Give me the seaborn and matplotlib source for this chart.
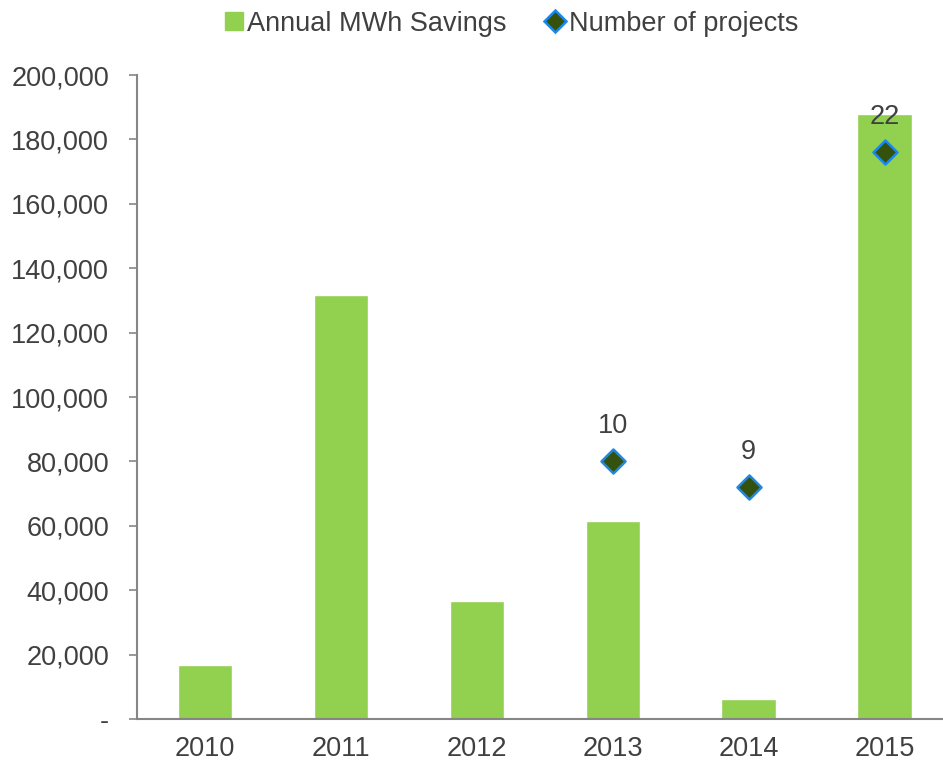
import matplotlib
matplotlib.use("Agg")
import matplotlib.pyplot as plt
from matplotlib.lines import Line2D
from matplotlib.ticker import FuncFormatter
import seaborn as sns
import pandas as pd

years = ["2010", "2011", "2012", "2013", "2014", "2015"]
mwh_savings = [16800, 131600, 36700, 61500, 6100, 187800]
project_years = ["2013", "2014", "2015"]
project_counts = [10, 9, 22]

sns.set_style("white")
plt.rcParams["font.family"] = ["Liberation Sans", "DejaVu Sans"]
text_col = "#404040"
bar_col = "#92D050"
dia_col = "#34520E"
dia_edge = "#1E88E5"

fig = plt.figure(figsize=(9.43, 7.64), dpi=100)
ax = fig.add_axes([0.1453, 0.0589, 0.8547, 0.8429])

df = pd.DataFrame({"year": years, "mwh": mwh_savings})
sns.barplot(data=df, x="year", y="mwh", color=bar_col, saturation=1, width=0.4, ax=ax)
ax.set_ylim(0, 200000)
ax.set_xlim(-0.5, 5.43)
ax.set_yticks(range(0, 200001, 20000))
ax.yaxis.set_major_formatter(FuncFormatter(lambda v, p: "-" if v == 0 else f"{int(v):,}"))
ax.set_xlabel("")
ax.set_ylabel("")
for s in ["top", "right"]:
    ax.spines[s].set_visible(False)
for s in ["left", "bottom"]:
    ax.spines[s].set_color("#868686")
    ax.spines[s].set_linewidth(1.5)
ax.tick_params(axis="y", left=True, length=6, width=1.2, color="#868686",
               labelsize=19.5, labelcolor=text_col, pad=14)
ax.tick_params(axis="x", bottom=False, labelsize=19.5, labelcolor=text_col, pad=9)

# secondary (hidden) axis for the project counts
ax2 = ax.twinx()
pos = [years.index(y) for y in project_years]
pdf = pd.DataFrame({"x": pos, "n": project_counts})
sns.scatterplot(data=pdf, x="x", y="n", marker="D", s=150, color=dia_col,
                edgecolor=dia_edge, linewidth=1.8, ax=ax2, zorder=5)
ax2.set_ylim(0, 25)
ax2.set_xlim(-0.5, 5.43)
ax2.axis("off")
for x, n in zip(pos, project_counts):
    ax2.annotate(str(n), (x, n), xytext=(0, 16), textcoords="offset points",
                 ha="center", va="bottom", fontsize=19.5, color=text_col)

handles = [
    Line2D([], [], marker="s", linestyle="none", markersize=13, color=bar_col),
    Line2D([], [], marker="D", linestyle="none", markersize=11,
           markerfacecolor=dia_col, markeredgecolor=dia_edge, markeredgewidth=1.8),
]
leg = fig.legend(handles, ["Annual MWh Savings", "Number of projects"], loc="upper center",
                 bbox_to_anchor=(0.54, 1.018), ncol=2, frameon=False, fontsize=19.5,
                 handletextpad=0.0, columnspacing=1.3, handlelength=1.0)
for t in leg.get_texts():
    t.set_color(text_col)

fig.savefig("out.png", dpi=100)
